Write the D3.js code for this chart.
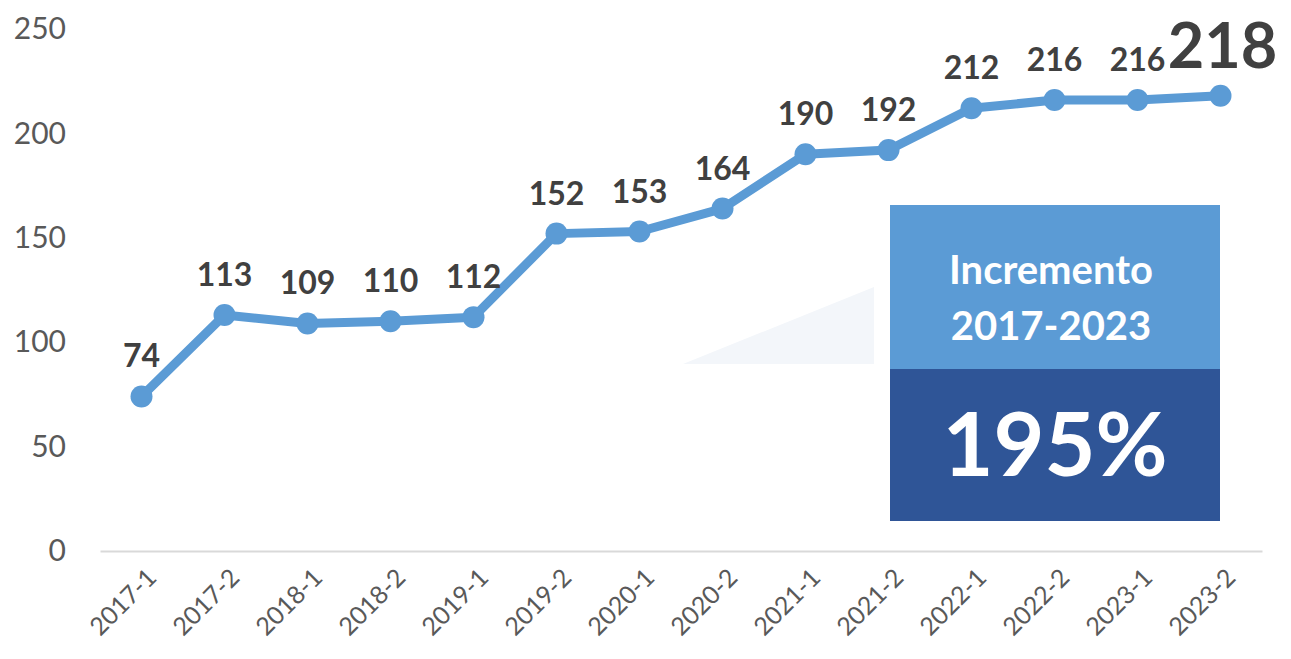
<!DOCTYPE html>
<html>
<head>
<meta charset="utf-8">
<script src="https://cdn.jsdelivr.net/npm/d3@7"></script>
<style>
  body { margin: 0; background: #fff; }
  text { font-family: Lato, "Open Sans", sans-serif; }
</style>
</head>
<body>
<script>
//chart data
var periods = ["2017-1","2017-2","2018-1","2018-2","2019-1","2019-2","2020-1",
               "2020-2","2021-1","2021-2","2022-1","2022-2","2023-1","2023-2"];
var values = [74, 113, 109, 110, 112, 152, 153, 164, 190, 192, 212, 216, 216, 218];
var yTicks = [0, 50, 100, 150, 200, 250];
var boxTitle = ["Incremento", "2017-2023"];
var boxValue = "195%";

//frame
var width = 1291,
    height = 659;

var svg = d3.select("body")
    .append("svg")
    .attr("width", width)
    .attr("height", height);

var x = d3.scalePoint()
    .domain(periods)
    .range([100, 1262])
    .padding(0.5);

var y = d3.scaleLinear()
    .domain([0, 250])
    .range([551, 29]);

//faint triangle behind the box
svg.append("path")
    .attr("d", "M683,364L874,287L874,364Z")
    .attr("fill", "#f3f6fa");

//increment box
svg.append("rect")
    .attr("x", 890).attr("y", 205)
    .attr("width", 330).attr("height", 164)
    .attr("fill", "#5b9bd5");
svg.append("rect")
    .attr("x", 890).attr("y", 369)
    .attr("width", 330).attr("height", 152)
    .attr("fill", "#2f5597");

svg.selectAll(".boxTitle")
    .data(boxTitle)
    .enter()
    .append("text")
    .attr("class", "boxTitle")
    .attr("x", 1051)
    .attr("y", function(d, i){ return 284 + i * 56; })
    .attr("text-anchor", "middle")
    .attr("fill", "#fff")
    .attr("font-weight", "bold")
    .attr("font-size", 40)
    .text(function(d){ return d; });

svg.append("text")
    .attr("x", 1055)
    .attr("y", 476)
    .attr("text-anchor", "middle")
    .attr("fill", "#fff")
    .attr("font-weight", "bold")
    .attr("font-size", 88)
    .text(boxValue);

//y axis labels (no line)
var yAxis = svg.append("g")
    .attr("transform", "translate(66,0)")
    .call(d3.axisLeft(y).tickValues(yTicks).tickSize(0).tickPadding(0));
yAxis.select(".domain").remove();
yAxis.selectAll("text")
    .attr("font-size", 30)
    .attr("fill", "#595959");

//x axis
var xAxis = svg.append("g")
    .attr("transform", "translate(0,551)")
    .call(d3.axisBottom(x).tickSize(0));
xAxis.select(".domain")
    .attr("stroke", "#d9d9d9")
    .attr("stroke-width", 2);
xAxis.selectAll("text")
    .attr("font-size", 25)
    .attr("fill", "#595959")
    .attr("text-anchor", "end")
    .attr("dy", null)
    .attr("transform", "translate(14,26) rotate(-45)");

//line
var line = d3.line()
    .x(function(d, i){ return x(periods[i]); })
    .y(function(d){ return y(d); });

svg.append("path")
    .datum(values)
    .attr("d", line)
    .attr("fill", "none")
    .attr("stroke", "#5b9bd5")
    .attr("stroke-width", 9)
    .attr("stroke-linejoin", "round");

svg.selectAll(".dot")
    .data(values)
    .enter()
    .append("circle")
    .attr("class", "dot")
    .attr("cx", function(d, i){ return x(periods[i]); })
    .attr("cy", function(d){ return y(d); })
    .attr("r", 11)
    .attr("fill", "#5b9bd5");

//data labels
var last = values.length - 1;
svg.selectAll(".lbl")
    .data(values)
    .enter()
    .append("text")
    .attr("class", "lbl")
    .attr("x", function(d, i){ return i === last ? x(periods[i]) + 2 : x(periods[i]); })
    .attr("y", function(d, i){ return i === last ? y(d) - 28 : y(d) - 29; })
    .attr("text-anchor", "middle")
    .attr("font-weight", "bold")
    .attr("font-size", function(d, i){ return i === last ? 63 : 32; })
    .attr("fill", "#404040")
    .text(function(d){ return d; });
</script>
</body>
</html>
